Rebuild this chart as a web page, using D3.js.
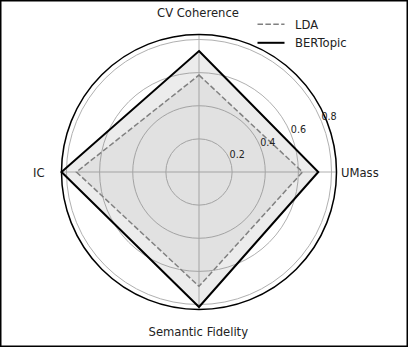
<!DOCTYPE html>
<html><head><meta charset="utf-8">
<script src="https://cdn.jsdelivr.net/npm/d3@7"></script>
<style>body{margin:0;background:#fff}svg{display:block;font-family:"DejaVu Sans",sans-serif}</style>
</head><body>
<svg id="c" width="409" height="348"></svg>
<script>
const categories = ["CV Coherence", "UMass", "Semantic Fidelity", "IC"];
const ldaValues = [0.585, 0.625, 0.69, 0.74];
const bertValues = [0.73, 0.72, 0.815, 0.83];
const seriesNames = ["LDA", "BERTopic"];
const radialTicks = [0.2, 0.4, 0.6, 0.8];

const svg = d3.select("#c");
const cx = 199, cy = 172, R = 137.5;
const rMax = d3.max(bertValues.concat(ldaValues));
const r = d3.scaleLinear().domain([0, rMax]).range([0, R]);
const ang = d3.scaleBand().domain(categories).range([0, 2 * Math.PI]).paddingInner(0).paddingOuter(0);
const theta = c => ang(c); // clockwise from top
const px = (c, v) => cx + r(v) * Math.sin(theta(c));
const py = (c, v) => cy - r(v) * Math.cos(theta(c));

// frame
svg.append("rect").attr("x", 0.75).attr("y", 0.75).attr("width", 406.5).attr("height", 345.5)
  .attr("fill", "none").attr("stroke", "#000").attr("stroke-width", 1.5);

const g = svg.append("g");
// grid circles
g.selectAll("circle.grid").data(radialTicks).join("circle")
  .attr("cx", cx).attr("cy", cy).attr("r", d => r(d))
  .attr("fill", "none").attr("stroke", "#b0b0b0").attr("stroke-width", 1);
// spokes
g.selectAll("line.spoke").data(categories).join("line")
  .attr("x1", cx).attr("y1", cy)
  .attr("x2", d => px(d, rMax)).attr("y2", d => py(d, rMax))
  .attr("stroke", "#b0b0b0").attr("stroke-width", 1);

const lineGen = vals => d3.line().x((v, i) => px(categories[i], v)).y((v, i) => py(categories[i], v)).curve(d3.curveLinearClosed)(vals);

// fills
g.append("path").attr("d", lineGen(bertValues)).attr("fill", "#808080").attr("fill-opacity", 0.15);
g.append("path").attr("d", lineGen(ldaValues)).attr("fill", "#808080").attr("fill-opacity", 0.1);
// outlines
g.append("path").attr("d", lineGen(ldaValues)).attr("fill", "none").attr("stroke", "#808080")
  .attr("stroke-width", 1.5).attr("stroke-dasharray", "5.5,2.4");
g.append("path").attr("d", lineGen(bertValues)).attr("fill", "none").attr("stroke", "#000")
  .attr("stroke-width", 2).attr("stroke-linejoin", "miter");

// outer spine
g.append("circle").attr("cx", cx).attr("cy", cy).attr("r", r(rMax))
  .attr("fill", "none").attr("stroke", "#000").attr("stroke-width", 1.5);

// radial tick labels at 22.5deg
const la = 67.5 * Math.PI / 180;
g.selectAll("text.rt").data(radialTicks).join("text")
  .attr("x", d => cx + r(d) * Math.sin(la))
  .attr("y", d => cy - r(d) * Math.cos(la) - 1)
  .attr("font-size", "9.6px").attr("fill", "#222")
  .text(d => d3.format(".1f")(d));

// category labels
const labelPos = {
  "CV Coherence": {x: 198, y: 16.7, a: "middle"},
  "UMass": {x: 341, y: 177.3, a: "start"},
  "Semantic Fidelity": {x: 198.3, y: 335.5, a: "middle"},
  "IC": {x: 44.5, y: 177.3, a: "end"}
};
g.selectAll("text.cat").data(categories).join("text")
  .attr("x", d => labelPos[d].x).attr("y", d => labelPos[d].y)
  .attr("text-anchor", d => labelPos[d].a)
  .attr("font-size", "11.6px").attr("fill", "#222").text(d => d);

// legend
const leg = svg.append("g");
const legY = [24.3, 42.8];
seriesNames.forEach((s, i) => {
  leg.append("line").attr("x1", 257.5).attr("x2", 284.5).attr("y1", legY[i]).attr("y2", legY[i])
    .attr("stroke", i === 0 ? "#808080" : "#000").attr("stroke-width", i === 0 ? 1.5 : 2)
    .attr("stroke-dasharray", i === 0 ? "5.5,2.4" : null);
  leg.append("text").attr("x", 295).attr("y", legY[i] + 4.2).attr("font-size", "11.6px")
    .attr("fill", "#222").text(s);
});
</script>
</body></html>
